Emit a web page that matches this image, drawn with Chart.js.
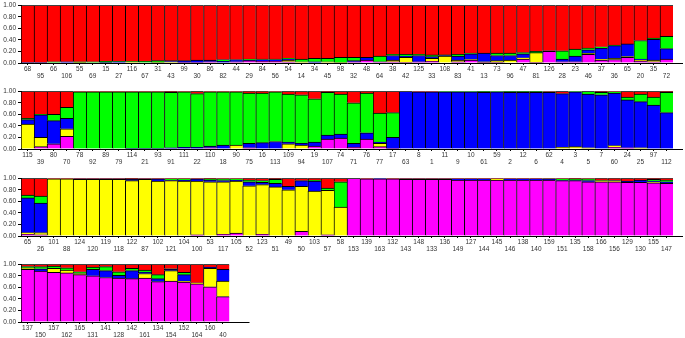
<!DOCTYPE html>
<html>
<head>
<meta charset="utf-8">
<script src="https://cdn.jsdelivr.net/npm/chart.js@4/dist/chart.umd.min.js"></script>
<style>
  html, body { margin: 0; padding: 0; background: #fff; overflow: hidden; }
  canvas { position: absolute; left: 0; }
</style>
</head>
<body>
<canvas id="row1" width="685" height="82" style="top:0px"></canvas>
<canvas id="row2" width="685" height="82" style="top:86px"></canvas>
<canvas id="row3" width="685" height="82" style="top:173px"></canvas>
<canvas id="row4" width="685" height="82" style="top:259px"></canvas>
<script>
// cluster colours, bottom to top: magenta, yellow, blue, green, red
const COLORS = ['#FF00FF', '#FFFF00', '#0000FF', '#00FF00', '#FF0000'];
const yTicks = [0, 0.2, 0.4, 0.6, 0.8, 1.0];

// row 1
const labels1 = ['68','95','66','106','55','69','15','27','116','67','31','43','99','30','86','82','44','29','84','56','54','14','34','45','98','32','48','64','38','42','125','33','108','83','41','13','73','96','47','81','126','28','23','46','37','36','65','20','35','72'];
const mag1 = [0,0,0,0,0,0,0,0,0,0,0,0,0.01,0.01,0.02,0,0.02,0.04,0.03,0.03,0.02,0,0,0,0,0.02,0.05,0.02,0.02,0.01,0.02,0.03,0,0.02,0.05,0.01,0.01,0,0.07,0.01,0.2,0.02,0.02,0.15,0.05,0.06,0.1,0.03,0.02,0.07];
const yel1 = [0,0,0,0,0.01,0,0,0,0.02,0,0.01,0.02,0,0,0,0,0,0,0,0,0.03,0.02,0,0.02,0.01,0,0,0,0.03,0.09,0,0.05,0.12,0.03,0.01,0.01,0.03,0.05,0.02,0.17,0,0,0,0.02,0.02,0.02,0.01,0.02,0.03,0];
const blu1 = [0.01,0.01,0,0.02,0,0,0.01,0.02,0,0,0,0.02,0.03,0.04,0.03,0.03,0.04,0.01,0.03,0.03,0.02,0,0.02,0,0,0.02,0.05,0,0.08,0.02,0.11,0.03,0.01,0.07,0.1,0.15,0.09,0.08,0.07,0,0.01,0.05,0.1,0.06,0.19,0.22,0.22,0.02,0.36,0.18];
const grn1 = [0,0,0.02,0,0.01,0.02,0.02,0.01,0.01,0.03,0.03,0,0,0,0,0.03,0,0.02,0.01,0.01,0.01,0.05,0.06,0.06,0.09,0.06,0,0.1,0.02,0.03,0.02,0.03,0.01,0.03,0.01,0,0.04,0.04,0.02,0.02,0,0.14,0.12,0.03,0.02,0.01,0,0.32,0.02,0.21];
const red1 = [0.99,0.99,0.98,0.98,0.98,0.98,0.97,0.97,0.97,0.97,0.96,0.96,0.96,0.95,0.95,0.94,0.94,0.93,0.93,0.93,0.92,0.93,0.92,0.92,0.9,0.9,0.9,0.88,0.85,0.85,0.85,0.86,0.86,0.85,0.83,0.83,0.83,0.83,0.82,0.8,0.79,0.79,0.76,0.74,0.72,0.69,0.67,0.61,0.57,0.54];

// row 2
const labels2 = ['115','39','80','70','78','92','89','79','114','21','93','91','111','22','110','18','90','75','16','113','109','94','19','107','74','71','76','77','17','63','8','1','11','9','10','61','59','2','12','6','62','4','3','5','7','60','24','25','97','112'];
const mag2 = [0,0.04,0.09,0.22,0,0,0,0,0,0,0,0,0,0,0.02,0,0,0.02,0,0,0,0,0.05,0.17,0.19,0.03,0.17,0.04,0.01,0,0,0,0,0,0,0,0,0,0,0,0,0,0,0,0,0.03,0.02,0,0,0];
const yel2 = [0.43,0.16,0,0.13,0,0,0,0,0,0,0,0,0,0,0,0,0.07,0,0,0,0.09,0.07,0,0,0,0,0,0.06,0,0,0,0,0,0,0,0,0,0,0,0,0,0.03,0.04,0.02,0,0.03,0,0.02,0,0];
const blu2 = [0.08,0.39,0.4,0.18,0,0,0,0,0.01,0.01,0.01,0.02,0.03,0.03,0.03,0.07,0,0.08,0.11,0.13,0.03,0.03,0.07,0.07,0.07,0.07,0.11,0.02,0.19,1,0.99,0.99,0.99,0.99,0.99,0.98,0.99,0.98,0.98,0.98,0.98,0.93,0.95,0.93,0.94,0.91,0.83,0.8,0.76,0.63];
const grn2 = [0.02,0.01,0.11,0.19,0.99,0.99,0.99,0.99,0.98,0.98,0.98,0.96,0.96,0.93,0.94,0.92,0.92,0.87,0.86,0.86,0.83,0.84,0.75,0.74,0.69,0.7,0.69,0.5,0.43,0,0,0,0.01,0.01,0.01,0.02,0.01,0.02,0.02,0.02,0.01,0,0.01,0.05,0.04,0.02,0.05,0.13,0.14,0.35];
const red2 = [0.47,0.4,0.4,0.28,0.01,0.01,0.01,0.01,0.01,0.01,0.01,0.02,0.01,0.04,0.01,0.01,0.01,0.03,0.03,0.01,0.05,0.06,0.13,0.02,0.05,0.2,0.03,0.38,0.37,0,0.01,0.01,0,0,0,0,0,0,0,0,0.01,0.04,0,0,0.02,0.01,0.1,0.05,0.1,0.02];

// row 3
const labels3 = ['65','26','101','88','124','120','119','118','122','87','102','121','104','100','53','117','105','52','123','51','49','50','103','57','58','153','139','163','132','143','148','133','136','149','127','144','145','146','138','140','159','151','135','158','166','156','129','130','155','147'];
const mag3 = [0.03,0.02,0,0,0,0,0,0,0,0,0,0,0,0.02,0,0.03,0.05,0,0.03,0,0,0.08,0,0.02,0,1,0.99,0.99,0.99,0.98,0.98,0.98,0.98,0.97,0.97,0.97,0.97,0.97,0.97,0.97,0.97,0.96,0.96,0.94,0.94,0.94,0.93,0.93,0.92,0.91];
const yel3 = [0.03,0.04,0.99,0.99,0.98,0.98,0.98,0.98,0.96,0.98,0.95,0.96,0.95,0.93,0.94,0.91,0.9,0.87,0.86,0.85,0.8,0.78,0.78,0.77,0.5,0,0,0,0,0,0,0,0,0,0,0,0.02,0,0,0,0,0,0,0,0.02,0.02,0,0,0.02,0];
const blu3 = [0.6,0.51,0,0,0.01,0.01,0.01,0.01,0.02,0.01,0.04,0.01,0.02,0.04,0.03,0.02,0.02,0.07,0.04,0.06,0.06,0.1,0.17,0,0,0,0,0.01,0,0.01,0.01,0.01,0.01,0.02,0.02,0.02,0,0.02,0.02,0.02,0.01,0.01,0.01,0.02,0,0.01,0.02,0.04,0.01,0.03];
const grn3 = [0.05,0.12,0,0,0,0,0,0,0,0,0,0.02,0.02,0,0.01,0.03,0.02,0.03,0.03,0.07,0,0,0.02,0.04,0.44,0,0,0,0,0,0,0,0,0,0,0,0,0,0,0,0.01,0.02,0.01,0.03,0.01,0,0,0,0.03,0.03];
const red3 = [0.29,0.31,0.01,0.01,0.01,0.01,0.01,0.01,0.02,0.01,0.01,0.01,0.01,0.01,0.02,0.01,0.01,0.03,0.04,0.02,0.14,0.04,0.03,0.17,0.06,0,0.01,0,0.01,0.01,0.01,0.01,0.01,0.01,0.01,0.01,0.01,0.01,0.01,0.01,0.01,0.01,0.02,0.01,0.03,0.03,0.05,0.03,0.02,0.03];

// row 4
const labels4 = ['137','150','157','162','165','131','141','128','142','161','134','154','152','164','160','40'];
const mag4 = [0.91,0.88,0.86,0.85,0.82,0.8,0.77,0.76,0.75,0.76,0.7,0.71,0.69,0.66,0.61,0.44];
const yel4 = [0.03,0,0.07,0.05,0.02,0,0,0,0,0.08,0,0.18,0.02,0.02,0.32,0.27];
const blu4 = [0,0.04,0,0,0,0.11,0.12,0.05,0.14,0.02,0.05,0.02,0.11,0,0.02,0.2];
const grn4 = [0.02,0.04,0.04,0.04,0.03,0.04,0.07,0.06,0.04,0.04,0.07,0.01,0.04,0,0,0];
const red4 = [0.04,0.04,0.03,0.06,0.13,0.05,0.04,0.13,0.07,0.1,0.18,0.08,0.14,0.32,0.05,0.09];

// extends the x axis line a bit past the last bar, like the original
const axisTail = {
  id: 'axisTail',
  afterDraw(chart, args, opts) {
    const { ctx, chartArea } = chart;
    ctx.save();
    ctx.strokeStyle = '#000';
    ctx.lineWidth = 1;
    ctx.beginPath();
    ctx.moveTo(chartArea.right, chartArea.bottom + 0.5);
    ctx.lineTo(chartArea.right + opts.length, chartArea.bottom + 0.5);
    ctx.stroke();
    ctx.restore();
  }
};

const tickFont = { family: 'Liberation Sans, Arial, sans-serif', size: 6.5, lineHeight: '6.5px' };

function makeRow(id, labels, series, rightPad, tail) {
  const datasets = series.map((data, i) => ({
    data: data,
    backgroundColor: COLORS[i],
    borderColor: '#000',
    borderWidth: { left: 1, top: 1, right: 0, bottom: 0 },
    borderSkipped: false,
    barPercentage: 1,
    categoryPercentage: 1
  }));
  new Chart(document.getElementById(id), {
    type: 'bar',
    data: { labels: labels, datasets: datasets },
    plugins: [axisTail],
    options: {
      responsive: false,
      animation: false,
      layout: { padding: { top: 3, right: rightPad, left: 0, bottom: 0 } },
      plugins: { legend: { display: false }, tooltip: { enabled: false }, axisTail: { length: tail } },
      scales: {
        x: {
          stacked: true,
          grid: { display: true, drawOnChartArea: false, offset: false, tickLength: 2, color: '#000' },
          border: { display: true, color: '#000' },
          ticks: {
            autoSkip: false, maxRotation: 0, padding: 1, color: '#333', font: tickFont,
            callback: function (value, index) {
              const l = this.getLabelForValue(value);
              return index % 2 ? ['', l] : l;
            }
          },
          afterFit(scale) { scale.height = 19; }
        },
        y: {
          stacked: true, min: 0, max: 1,
          grid: { display: true, drawOnChartArea: false, tickLength: 3, color: '#000' },
          border: { display: true, color: '#000' },
          ticks: {
            stepSize: 0.2, padding: 2, color: '#333', font: tickFont,
            callback: v => v.toFixed(2)
          },
          afterBuildTicks(scale) { scale.ticks = yTicks.map(v => ({ value: v })); },
          afterFit(scale) { scale.width = 21; }
        }
      }
    }
  });
}

makeRow('row1', labels1, [mag1, yel1, blu1, grn1, red1], 12, 10);
makeRow('row2', labels2, [mag2, yel2, blu2, grn2, red2], 12, 10);
makeRow('row3', labels3, [mag3, yel3, blu3, grn3, red3], 12, 10);
makeRow('row4', labels4, [mag4, yel4, blu4, grn4, red4], 455.5, 20);
</script>
</body>
</html>
